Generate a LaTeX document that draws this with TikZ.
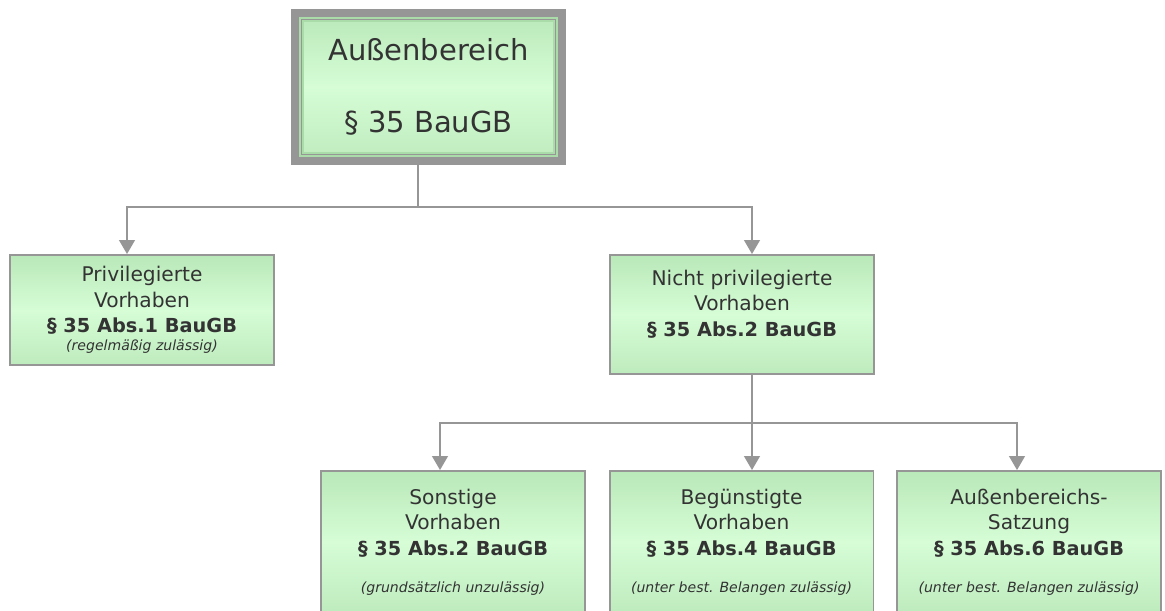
\documentclass[tikz,border=0pt]{standalone}
\usepackage{fontspec}
\setmainfont{DejaVu Sans}
\usepackage{tikz}
\usetikzlibrary{arrows.meta, positioning, calc}
\definecolor{mygray}{RGB}{150,150,150}
\definecolor{mytext}{RGB}{51,51,51}
\definecolor{mygreentop}{RGB}{185,232,185}
\definecolor{mygreenmid}{RGB}{214,253,214}
\definecolor{mygreenbot}{RGB}{190,235,190}
\definecolor{myframe}{RGB}{170,220,170}
\newcommand{\paragraf}[1]{{\fontsize{11}{14.5}\selectfont\bfseries #1}}
\newcommand{\hinttext}[1]{{\fontsize{8}{9}\selectfont\itshape #1}}
\tikzset{
  topblock/.style={rectangle, draw=mygray, line width=4.5pt, top color=mygreentop, bottom color=mygreenbot,
    middle color=mygreenmid, minimum width=5.34cm, minimum height=2.96cm, align=center, text=mytext,
    font=\fontsize{16.5}{20}\selectfont},
  block/.style={rectangle, draw=mygray, line width=1.1pt, top color=mygreentop, bottom color=mygreenbot,
    middle color=mygreenmid, minimum width=5.28cm, align=center, text=mytext, inner sep=0pt,
    font=\fontsize{11.5}{14.5}\selectfont},
  frameline/.style={draw=myframe, double=mygray, double distance=0.57pt, line width=1.13pt},
  arrow/.style={-{Triangle[width=9pt, length=8pt]}, line width=1.1pt, color=mygray},
  line/.style={line width=1.1pt, color=mygray}
}
\begin{document}
\begin{tikzpicture}[x=0.02cm, y=-0.02cm]
  \useasboundingbox (0,0) rectangle (1165,610);
  \clip (0,0) rectangle (1165,610);
  % top: Aussenbereich
  \node[topblock] (A) at (428.5,87) {Außenbereich\\[21pt]§ 35 BauGB};
  \draw[frameline] ($(A.north west)+(10.5,10.5)$) rectangle ($(A.south east)+(-10.5,-10.5)$);
  % second row
  \node[block, minimum height=2.2cm] (B) at (142,310)
    {Privilegierte\\Vorhaben\\\paragraf{§ 35 Abs.1 BauGB}\\[-4pt]\hinttext{(regelmäßig zulässig)}};
  \node[block, minimum height=2.38cm, text depth=13pt] (C) at (742,314.5)
    {Nicht privilegierte\\Vorhaben\\\paragraf{§ 35 Abs.2 BauGB}};
  % third row (runs past the lower edge)
  \node[block, minimum height=2.84cm] (D) at (453,542)
    {Sonstige\\Vorhaben\\\paragraf{§ 35 Abs.2 BauGB}\\[6.4pt]\hinttext{(grundsätzlich unzulässig)}};
  \node[block, minimum height=2.84cm] (E) at (741.5,542)
    {Begünstigte\\Vorhaben\\\paragraf{§ 35 Abs.4 BauGB}\\[6.4pt]\hinttext{(unter best. Belangen zulässig)}};
  \node[block, minimum height=2.84cm] (F) at (1029,542)
    {Außenbereichs-\\Satzung\\\paragraf{§ 35 Abs.6 BauGB}\\[6.4pt]\hinttext{(unter best. Belangen zulässig)}};
  % connectors
  \coordinate (j1) at (418,207);
  \coordinate (d1) at (127,207);
  \coordinate (d2) at (752,207);
  \draw[line] (A.south -| j1) -- (j1);
  \draw[arrow] (j1) -| (d1 |- B.north);
  \draw[arrow] (j1) -| (d2 |- C.north);
  \coordinate (j2) at (752,423);
  \coordinate (d3) at (440,423);
  \coordinate (d5) at (1017,423);
  \draw[arrow] (C.south -| j2) -- (j2 |- E.north);
  \draw[arrow] (j2) -| (d3 |- D.north);
  \draw[arrow] (j2) -| (d5 |- F.north);
\end{tikzpicture}
\end{document}
